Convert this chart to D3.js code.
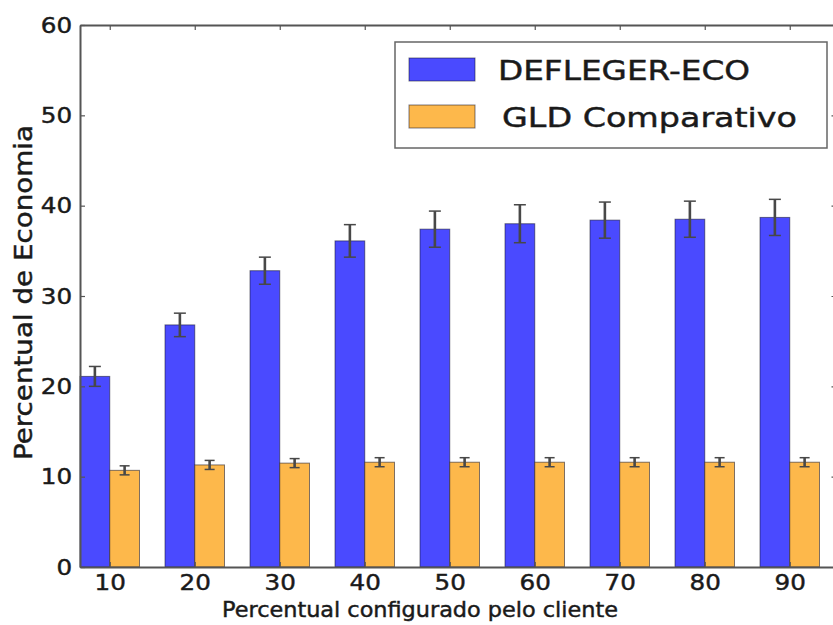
<!DOCTYPE html>
<html>
<head>
<meta charset="utf-8">
<script src="https://cdn.jsdelivr.net/npm/d3@7"></script>
<style>
  html, body { margin: 0; padding: 0; background: #ffffff; }
  svg { display: block; }
  text { font-family: "DejaVu Sans", sans-serif; fill: #1a1a1a; stroke: #1a1a1a; stroke-width: 0.45px; }
</style>
</head>
<body>
<svg id="chart" width="833" height="625"></svg>
<script>
// Percentual configurado pelo cliente (x categories)
const categories = [10, 20, 30, 40, 50, 60, 70, 80, 90];
// Savings for each system, with standard deviation
const deflegerValues = [21.1, 26.8, 32.8, 36.1, 37.4, 38.0, 38.4, 38.5, 38.7];
const deflegerErrors = [1.1, 1.3, 1.5, 1.8, 2.0, 2.1, 2.0, 2.0, 2.0];
const gldValues = [10.7, 11.3, 11.5, 11.6, 11.6, 11.6, 11.6, 11.6, 11.6];
const gldErrors = [0.5, 0.5, 0.5, 0.5, 0.5, 0.5, 0.5, 0.5, 0.5];
const seriesNames = ["DEFLEGER-ECO", "GLD Comparativo"];
const yTicks = [0, 10, 20, 30, 40, 50, 60];

const barWidth = 3.5; // in x-data units
const colors = ["#4a4aff", "#fdb84b"];

const svg = d3.select("#chart");
const plotLeft = 80, plotRight = 836.5, plotTop = 25, plotBottom = 567;

const x = d3.scaleLinear().domain([6.5, 95.5]).range([plotLeft, plotRight]);
const y = d3.scaleLinear().domain([0, 60]).range([plotBottom, plotTop]);

const series = [
  { name: seriesNames[0], values: deflegerValues, errors: deflegerErrors, color: colors[0], offset: -barWidth, cap: 6 },
  { name: seriesNames[1], values: gldValues, errors: gldErrors, color: colors[1], offset: 0, cap: 5 }
];

// Bars
series.forEach(s => {
  svg.append("g").selectAll("rect")
    .data(categories.map((c, i) => ({ c, v: s.values[i], e: s.errors[i] })))
    .join("rect")
    .attr("x", d => x(d.c + s.offset))
    .attr("y", d => y(d.v))
    .attr("width", d => x(d.c + s.offset + barWidth) - x(d.c + s.offset))
    .attr("height", d => y(0) - y(d.v))
    .attr("fill", s.color)
    .attr("stroke", "rgba(20,20,40,0.55)")
    .attr("stroke-width", 1);
});

// Error bars
series.forEach(s => {
  const g = svg.append("g").attr("stroke", "#484848").attr("stroke-width", 2.6);
  const data = categories.map((c, i) => ({ c, v: s.values[i], e: s.errors[i] }));
  const cx = d => x(d.c + s.offset + barWidth / 2);
  g.selectAll("line.v").data(data).join("line")
    .attr("class", "v")
    .attr("x1", cx).attr("x2", cx)
    .attr("y1", d => y(d.v - d.e)).attr("y2", d => y(d.v + d.e));
  ["lo", "hi"].forEach(k => {
    g.selectAll("line." + k).data(data).join("line")
      .attr("class", k)
      .attr("stroke-width", 1.5)
      .attr("x1", d => cx(d) - s.cap).attr("x2", d => cx(d) + s.cap)
      .attr("y1", d => y(k === "hi" ? d.v + d.e : d.v - d.e))
      .attr("y2", d => y(k === "hi" ? d.v + d.e : d.v - d.e));
  });
});

// Axes with inward ticks
function styleAxis(g) {
  g.select(".domain").attr("stroke", "#555").attr("stroke-width", 2);
  g.selectAll(".tick line").attr("stroke", "#555").attr("stroke-width", 1.2);
  g.selectAll(".tick text")
    .attr("font-size", 22)
    .attr("fill", "#1a1a1a")
    .style("font-family", "'DejaVu Sans', sans-serif");
}

svg.append("g").attr("transform", `translate(0,${plotBottom})`)
  .call(d3.axisBottom(x).tickValues(categories).tickSizeInner(-5).tickSizeOuter(0).tickPadding(7))
  .call(styleAxis)
  .call(g => g.selectAll(".tick text").attr("transform", "scale(1.12,1)"));

svg.append("g").attr("transform", `translate(0,${plotTop})`)
  .call(d3.axisTop(x).tickValues(categories).tickFormat("").tickSizeInner(-5).tickSizeOuter(0))
  .call(styleAxis);

svg.append("g").attr("transform", `translate(${plotLeft},0)`)
  .call(d3.axisLeft(y).tickValues(yTicks).tickSizeInner(-5).tickSizeOuter(0).tickPadding(7))
  .call(styleAxis)
  .call(g => g.selectAll(".tick text").attr("transform", "scale(1.12,1)"));

svg.append("g").attr("transform", `translate(${plotRight},0)`)
  .call(d3.axisRight(y).tickValues(yTicks).tickFormat("").tickSizeInner(-5).tickSizeOuter(0))
  .call(styleAxis);

// Axis titles
svg.append("text")
  .attr("x", 420).attr("y", 617)
  .attr("text-anchor", "middle")
  .attr("font-size", 21)
  .attr("textLength", 396)
  .attr("lengthAdjust", "spacingAndGlyphs")
  .text("Percentual configurado pelo cliente");

svg.append("text")
  .attr("transform", "translate(32,292.5) rotate(-90)")
  .attr("text-anchor", "middle")
  .attr("font-size", 25)
  .attr("textLength", 335)
  .attr("lengthAdjust", "spacingAndGlyphs")
  .text("Percentual de Economia");

// Legend
const legend = svg.append("g");
legend.append("rect")
  .attr("x", 395).attr("y", 42).attr("width", 432).attr("height", 106)
  .attr("fill", "#fff").attr("stroke", "#666").attr("stroke-width", 1.5);

const legendRows = [
  { name: seriesNames[0], color: colors[0], py: 58, ty: 80, tx: 498, len: 252 },
  { name: seriesNames[1], color: colors[1], py: 105, ty: 127, tx: 502, len: 295 }
];
legendRows.forEach(r => {
  legend.append("rect")
    .attr("x", 409).attr("y", r.py).attr("width", 66).attr("height", 23)
    .attr("fill", r.color).attr("stroke", "rgba(20,20,40,0.55)").attr("stroke-width", 1);
  legend.append("text")
    .attr("x", r.tx).attr("y", r.ty)
    .attr("font-size", 27)
    .attr("textLength", r.len)
    .attr("lengthAdjust", "spacingAndGlyphs")
    .text(r.name);
});
</script>
</body>
</html>
